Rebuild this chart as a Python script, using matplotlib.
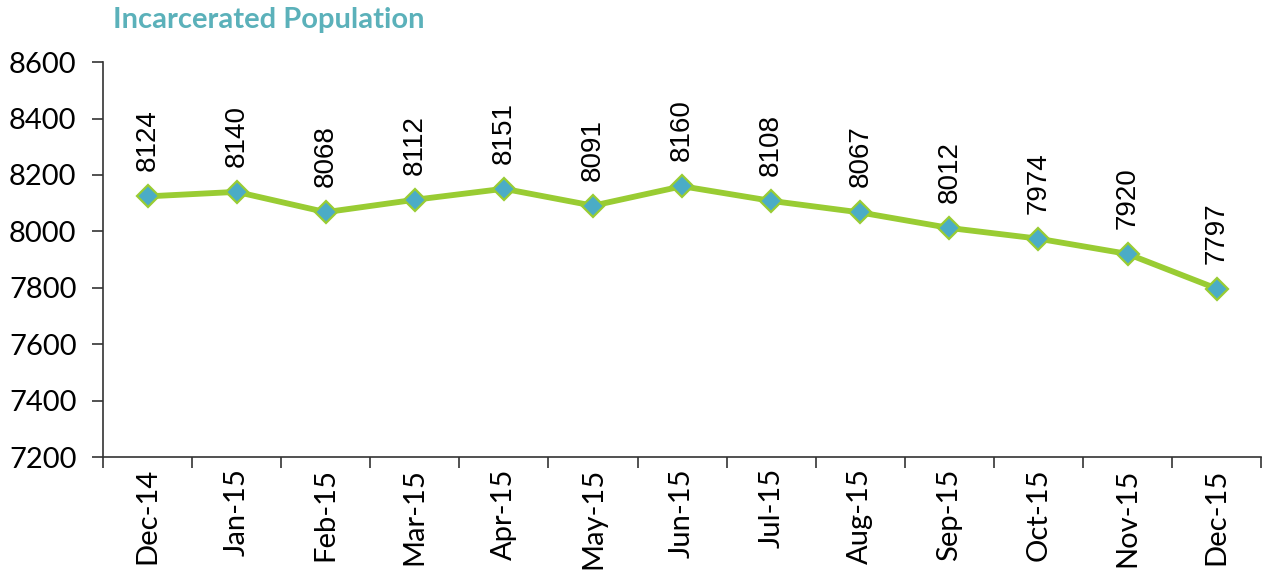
import matplotlib
matplotlib.use("Agg")
import matplotlib.pyplot as plt

months = ["Dec-14", "Jan-15", "Feb-15", "Mar-15", "Apr-15", "May-15", "Jun-15",
          "Jul-15", "Aug-15", "Sep-15", "Oct-15", "Nov-15", "Dec-15"]
population = [8124, 8140, 8068, 8112, 8151, 8091, 8160, 8108, 8067, 8012, 7974, 7920, 7797]
yticks = [7200, 7400, 7600, 7800, 8000, 8200, 8400, 8600]

fig = plt.figure(figsize=(12.7, 5.74), dpi=100)
ax = fig.add_axes([0.0811, 0.2038, 0.912, 0.688])

x = list(range(len(months)))
ax.plot(x, population, color="#99CC33", lw=4.2, marker="D", markersize=11,
        markerfacecolor="#4BACC6", markeredgecolor="#99CC33", markeredgewidth=1.6,
        zorder=3)

for xi, v in zip(x, population):
    ax.annotate(str(v), (xi, v), xytext=(0, 18), textcoords="offset points",
                rotation=90, ha="center", va="bottom", fontsize=20,
                family="Liberation Sans")

ax.set_xlim(-0.5, len(months) - 0.5)
ax.set_ylim(7200, 8600)
ax.set_yticks(yticks)
ax.set_yticklabels([str(t) for t in yticks], family="Lato", fontsize=21)

ax.set_xticks([i - 0.5 for i in range(len(months) + 1)])
ax.set_xticklabels([])
ax.set_xticks(x, minor=True)
ax.set_xticklabels(months, minor=True, rotation=90, fontsize=21, family="Lato")
ax.tick_params(axis="x", which="minor", length=0, pad=8)
ax.tick_params(axis="x", which="major", length=8, width=1.2, color="#333333")
ax.tick_params(axis="y", length=8, width=1.2, color="#333333", pad=11)

ax.spines["top"].set_visible(False)
ax.spines["right"].set_visible(False)
for s in ("left", "bottom"):
    ax.spines[s].set_linewidth(1.2)
    ax.spines[s].set_color("#333333")

fig.text(0.089, 0.965, "Incarcerated Population", color="#5BB1BA", fontsize=21,
         fontweight="bold", family="Lato", ha="left", va="center")

fig.savefig("out.png", dpi=100)
